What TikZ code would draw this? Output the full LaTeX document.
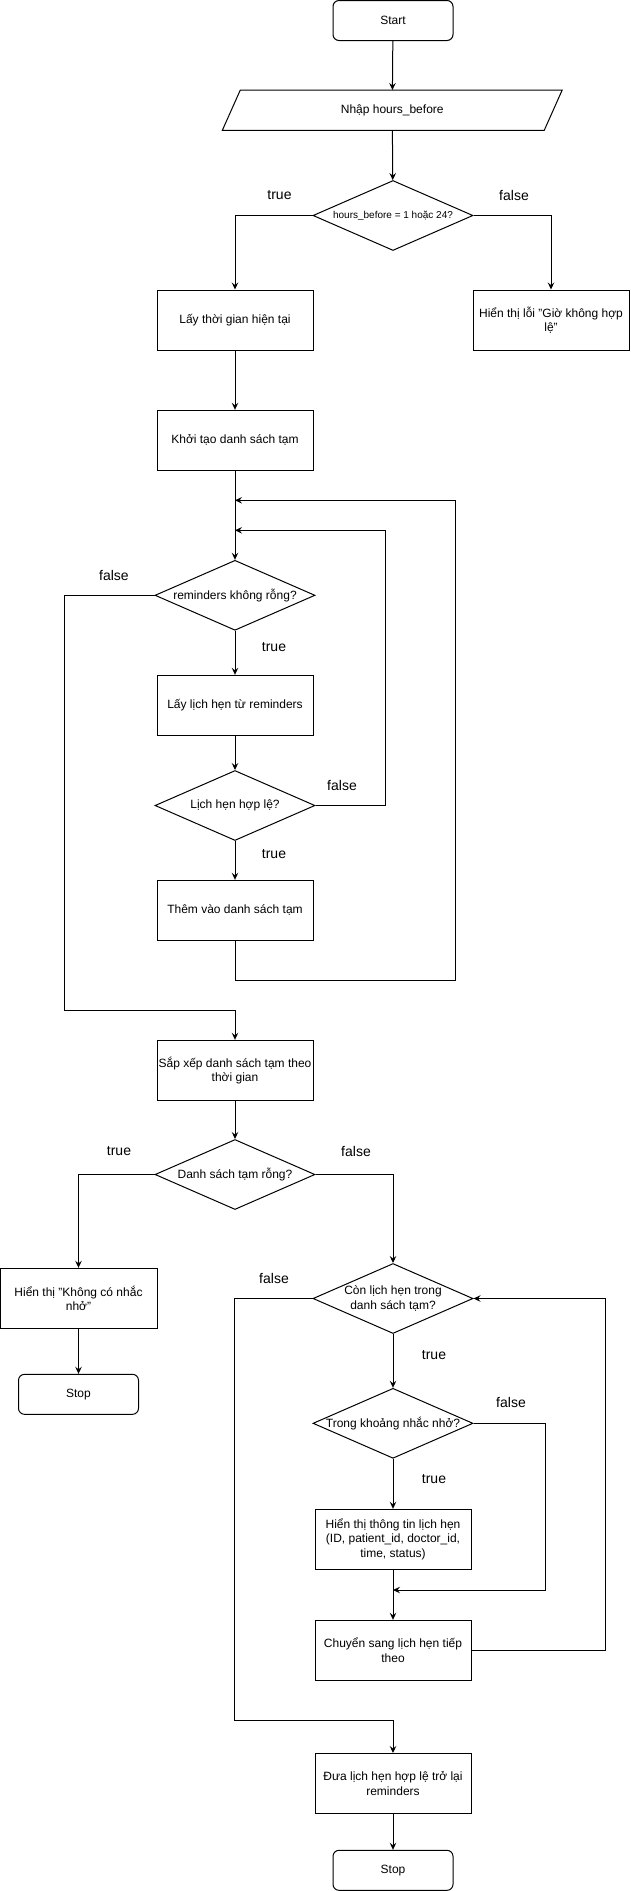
\documentclass[tikz,border=0pt]{standalone}
\usepackage{fontspec}
\setmainfont{Liberation Sans}
\usetikzlibrary{shapes.geometric,arrows.meta}
\begin{document}
\begin{tikzpicture}[x=1pt,y=-1pt,
  every node/.style={font=\fontsize{12}{14.4}\selectfont},
  line/.style={draw=black,line width=1pt},
  arr/.style={line,-{Stealth[length=7pt,width=6.5pt,inset=2.5pt]}},
  proc/.style={draw=black,line width=1pt,rectangle,minimum width=156pt,minimum height=60pt,inner sep=1pt,align=center},
  term/.style={draw=black,line width=1pt,rectangle,rounded corners=6pt,minimum width=120pt,minimum height=40pt,inner sep=0pt},
  dia/.style={draw=black,line width=1pt,diamond,minimum width=160pt,minimum height=70pt,inner sep=0pt},
  dtext/.style={align=center,font=\fontsize{12}{14.4}\selectfont},
  lbl/.style={font=\fontsize{14}{16.8}\selectfont,inner sep=0pt}
]
\useasboundingbox (0,0) rectangle (630,1891);

% nodes
\node[term] (start) at (393,20.5) {Start};
\node[minimum width=339.5pt,minimum height=40pt,inner sep=0pt] (inp) at (392.25,110.2) {Nhập hours\_before};
\draw[line] ([xshift=18pt]inp.north west) -- (inp.north east) -- ([xshift=-18pt]inp.south east) -- (inp.south west) -- cycle;
\node[dia,label={[dtext,font=\fontsize{10}{12}\selectfont]center:{hours\_before = 1 hoặc 24?}}] (d1) at (393,215.5) {};
\node[proc] (l1) at (235,320) {Lấy thời gian hiện tại};
\node[proc] (r1) at (551,320) {Hiển thị lỗi "Giờ không hợp\\lệ"};
\node[proc] (k) at (235,440.3) {Khởi tạo danh sách tạm};
\node[dia,label={[dtext]center:{reminders không rỗng?}}] (d2) at (235,595.3) {};
\node[proc] (b) at (235,705.3) {Lấy lịch hẹn từ reminders};
\node[dia,label={[dtext]center:{Lịch hẹn hợp lệ?}}] (d3) at (235,805.5) {};
\node[proc] (t) at (235,910.3) {Thêm vào danh sách tạm};
\node[proc] (s) at (235,1070.3) {Sắp xếp danh sách tạm theo\\thời gian};
\node[dia,label={[dtext]center:{Danh sách tạm rỗng?}}] (d4) at (235,1174.5) {};
\node[proc,minimum width=157pt] (h) at (78.5,1298.3) {Hiển thị "Không có nhắc\\nhở"};
\node[term] (stop1) at (78.5,1394.3) {Stop};
\node[dia,label={[dtext]center:{Còn lịch hẹn trong\\danh sách tạm?}}] (d5) at (393,1298.5) {};
\node[dia,label={[dtext]center:{Trong khoảng nhắc nhở?}}] (d6) at (393,1423.3) {};
\node[proc] (ht) at (393,1539.3) {Hiển thị thông tin lịch hẹn\\(ID, patient\_id, doctor\_id,\\time, status)};
\node[proc] (c) at (393,1650.3) {Chuyển sang lịch hẹn tiếp\\theo};
\node[proc] (dl) at (393,1783.5) {Đưa lịch hẹn hợp lệ trở lại\\reminders};
\node[term] (stop2) at (393,1870.3) {Stop};

% merge points
\coordinate (m1) at (235,500.3);
\coordinate (m2) at (235,530.3);
\coordinate (m3) at (393,1590);

% connectors
\draw[arr] (start) -- (inp);
\draw[arr] (inp) -- (d1);
\draw[arr] (d1.west) -| (l1.north);
\draw[arr] (d1.east) -| (r1.north);
\draw[arr] (l1) -- (k);
\draw[arr] (k) -- (d2);
\draw[arr] (d2.west) -- (64.4,595.3) -- (64.4,1010.3) -| (s.north);
\draw[arr] (d2) -- (b);
\draw[arr] (b) -- (d3);
\draw[arr] (d3.east) -- (385,805.5) |- (m2);
\draw[arr] (d3) -- (t);
\draw[arr] (t.south) -- (235,980.3) -- (455,980.3) |- (m1);
\draw[arr] (s) -- (d4);
\draw[arr] (d4.west) -| (h.north);
\draw[arr] (d4.east) -| (d5.north);
\draw[arr] (h) -- (stop1);
\draw[arr] (d5.west) -- (234.5,1298.5) -- (234.5,1720.3) -| (dl.north);
\draw[arr] (d5) -- (d6);
\draw[arr] (d6.east) -- (545,1423.3) |- (m3);
\draw[arr] (d6) -- (ht);
\draw[arr] (ht) -- (c);
\draw[arr] (c.east) -- (605,1650.3) |- (d5.east);
\draw[arr] (dl) -- (stop2);

% labels
\node[lbl] at (279.5,195) {true};
\node[lbl] at (514,195) {false};
\node[lbl] at (114,575) {false};
\node[lbl] at (274,647) {true};
\node[lbl] at (342,785) {false};
\node[lbl] at (274,854) {true};
\node[lbl] at (119,1151) {true};
\node[lbl] at (356,1151) {false};
\node[lbl] at (274,1278) {false};
\node[lbl] at (434,1355) {true};
\node[lbl] at (511,1402) {false};
\node[lbl] at (434,1479) {true};
\end{tikzpicture}
\end{document}
